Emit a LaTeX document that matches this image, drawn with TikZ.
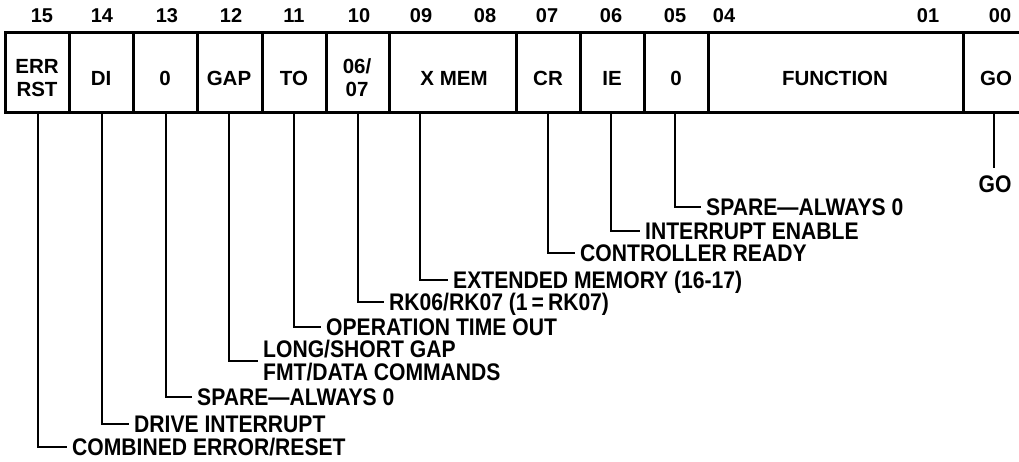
\documentclass[tikz,border=0pt]{standalone}
\usepackage{fontspec}
\setmainfont{Liberation Sans}
\newfontfamily\labfont{Liberation Sans}[FakeStretch=0.88]
\begin{document}
\begin{tikzpicture}[x=1pt,y=-1pt,
  num/.style={font=\fontsize{20}{24}\selectfont\bfseries, inner sep=0pt},
  cell/.style={font=\fontsize{20.5}{23}\selectfont\bfseries, align=center, inner sep=0pt},
  lab/.style={font=\labfont\fontsize{24}{23}\selectfont\bfseries, anchor=west, inner xsep=5pt, inner ysep=0pt, text height=17.2pt, text depth=0pt},
  lab2/.style={font=\labfont\fontsize{24}{23}\selectfont\bfseries, anchor=west, inner xsep=5pt, inner ysep=0pt, align=left},
  frame/.style={line width=3pt},
  lead/.style={line width=2.5pt}]
\useasboundingbox (0,0) rectangle (1019,462);

% register frame
\draw[frame] (1019,33) -- (5,33) -- (5,113) -- (1019,113);
\foreach \x in {69,133,197,262,326,389,516,580,644,708,963}
  \draw[frame] (\x,33) -- (\x,113);

% bit numbers
\node[num] (n15) at (42,16) {15};
\node[num] (n14) at (102,16) {14};
\node[num] (n13) at (167,16) {13};
\node[num] (n12) at (231,16) {12};
\node[num] (n11) at (294,16) {11};
\node[num] (n10) at (359,16) {10};
\node[num] (n09) at (421,16) {09};
\node[num] (n08) at (485,16) {08};
\node[num] (n07) at (547,16) {07};
\node[num] (n06) at (611,16) {06};
\node[num] (n05) at (675,16) {05};
\node[num] (n04) at (724,16) {04};
\node[num] (n01) at (928,16) {01};
\node[num] (n00) at (1000,16) {00};

% cell contents
\node[cell] (c15) at (37,78) {ERR\\RST};
\node[cell] (c14) at (101,78) {DI};
\node[cell] (c13) at (165,78) {0};
\node[cell] (c12) at (229,78) {GAP};
\node[cell] (c11) at (294,78) {TO};
\node[cell] (c10) at (357,78) {06/\\07};
\node[cell] (c09) at (454,78) {X MEM};
\node[cell] (c07) at (548,78) {CR};
\node[cell] (c06) at (612,78) {IE};
\node[cell] (c05) at (676,78) {0};
\node[cell] (c04) at (835,78) {FUNCTION};
\node[cell] (c00) at (996,78) {GO};

% leader start points at the bottom of the register
\coordinate (b15) at (38,113);
\coordinate (b14) at (102,113);
\coordinate (b13) at (166,113);
\coordinate (b12) at (229,113);
\coordinate (b11) at (294,113);
\coordinate (b10) at (358,113);
\coordinate (b09) at (420,113);
\coordinate (b07) at (548,113);
\coordinate (b06) at (611,113);
\coordinate (b05) at (675,113);
\coordinate (b00) at (994,113);

% descriptions
\node[lab] (l05) at (701,207) {SPARE—ALWAYS 0};
\node[lab] (l06) at (640,231) {INTERRUPT ENABLE};
\node[lab] (l07) at (575,253) {CONTROLLER READY};
\node[lab] (l09) at (448,280) {EXTENDED MEMORY (16-17)};
\node[lab] (l10) at (384,302) {RK06/RK07 (1\,=\,RK07)};
\node[lab] (l11) at (321,327) {OPERATION TIME OUT};
\node[lab2] (l12) at (258,361) {LONG/SHORT GAP\\FMT/DATA COMMANDS};
\node[lab] (l13) at (192,397) {SPARE—ALWAYS 0};
\node[lab] (l14) at (129,424) {DRIVE INTERRUPT};
\node[lab] (l15) at (67,447) {COMBINED ERROR/RESET};
\node[lab, anchor=center, inner ysep=7pt] (l00) at (995,184) {GO};

% leaders
\draw[lead] (b15) |- (l15.west);
\draw[lead] (b14) |- (l14.west);
\draw[lead] (b13) |- (l13.west);
\draw[lead] (b12) |- (l12.west);
\draw[lead] (b11) |- (l11.west);
\draw[lead] (b10) |- (l10.west);
\draw[lead] (b09) |- (l09.west);
\draw[lead] (b07) |- (l07.west);
\draw[lead] (b06) |- (l06.west);
\draw[lead] (b05) |- (l05.west);
\draw[lead] (b00) -- (b00 |- l00.north);
\end{tikzpicture}
\end{document}
